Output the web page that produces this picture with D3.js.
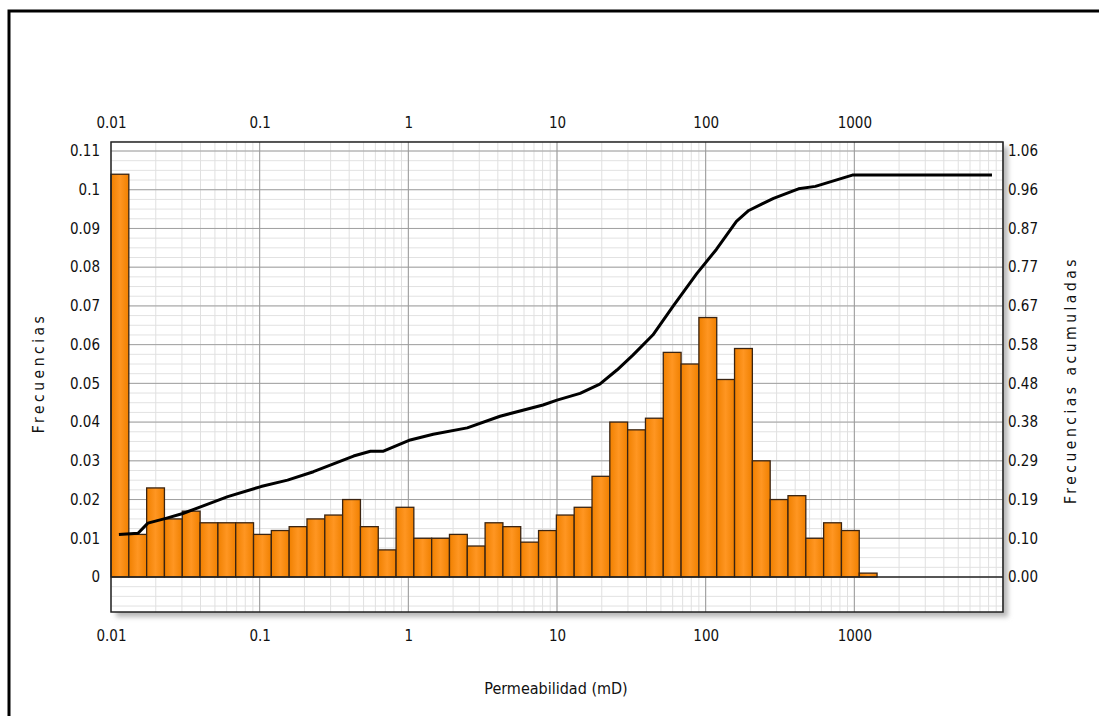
<!DOCTYPE html>
<html>
<head>
<meta charset="utf-8">
<script src="https://cdn.jsdelivr.net/npm/d3@7"></script>
<style>
  body { margin: 0; background: #fff; }
  text { font-family: "DejaVu Sans Condensed", "DejaVu Sans", sans-serif; fill: #111; }
</style>
</head>
<body>
<div id="chart"></div>
<script>
// histogram bins (permeabilidad, mD) - lower/upper edges
const binEdges = [0.01, 0.01318, 0.01737, 0.02288, 0.03016, 0.03974, 0.05237, 0.06901, 0.09094,
  0.1198, 0.1579, 0.2081, 0.2742, 0.3614, 0.4763, 0.6276, 0.8271, 1.089, 1.435, 1.891,
  2.492, 3.284, 4.327, 5.702, 7.515, 9.903, 13.05, 17.20, 22.66, 29.86, 39.36, 51.86,
  68.34, 90.06, 118.7, 156.4, 206.1, 271.6, 357.9, 471.7, 621.5, 819.1, 1079, 1422];

const frecuencias = [0.104, 0.011, 0.023, 0.015, 0.017, 0.014, 0.014, 0.014, 0.011, 0.012,
  0.013, 0.015, 0.016, 0.020, 0.013, 0.007, 0.018, 0.010, 0.010, 0.011,
  0.008, 0.014, 0.013, 0.009, 0.012, 0.016, 0.018, 0.026, 0.040, 0.038,
  0.041, 0.058, 0.055, 0.067, 0.051, 0.059, 0.030, 0.020, 0.021, 0.010,
  0.014, 0.012, 0.001];

// cumulative curve
const acumPerm = [0.0113, 0.0152, 0.0177, 0.0234, 0.0304, 0.0384, 0.061, 0.102, 0.154, 0.230,
  0.428, 0.556, 0.680, 1.03, 1.47, 2.49, 4.14, 8.05, 10, 14.3, 19.4, 25.3, 32.4, 44.1,
  60.1, 87.1, 118, 161, 195, 238, 286, 421, 547, 970, 8430];
const acumFrec = [0.106, 0.109, 0.134, 0.146, 0.158, 0.172, 0.200, 0.225, 0.241, 0.262,
  0.301, 0.313, 0.313, 0.341, 0.355, 0.371, 0.400, 0.428, 0.440, 0.457, 0.480, 0.515, 0.552, 0.602,
  0.673, 0.755, 0.815, 0.885, 0.912, 0.928, 0.942, 0.966, 0.972, 1.0, 1.0];

const xTicks = [0.01, 0.1, 1, 10, 100, 1000];
const xLabels = ["0.01", "0.1", "1", "10", "100", "1000"];
const leftTicks = [0, 0.01, 0.02, 0.03, 0.04, 0.05, 0.06, 0.07, 0.08, 0.09, 0.1, 0.11];
const rightTicks = [0, 0.0964, 0.1927, 0.2891, 0.3855, 0.4818, 0.5782, 0.6745, 0.7709, 0.8673, 0.9636, 1.06];
const rightLabels = ["0.00", "0.10", "0.19", "0.29", "0.38", "0.48", "0.58", "0.67", "0.77", "0.87", "0.96", "1.06"];

const W = 1099, H = 716;
const box = { left: 111, right: 1003, top: 142, bottom: 612 };

const svg = d3.select('#chart').append('svg')
  .attr('width', W)
  .attr('height', H);

const defs = svg.append('defs');
const grad = defs.append('linearGradient').attr('id', 'barGrad')
  .attr('x1', '0%').attr('x2', '100%').attr('y1', '0%').attr('y2', '0%');
grad.append('stop').attr('offset', '0%').attr('stop-color', '#f08000');
grad.append('stop').attr('offset', '50%').attr('stop-color', '#ff9622');
grad.append('stop').attr('offset', '100%').attr('stop-color', '#f08000');
defs.append('filter').attr('id', 'blur')
  .append('feGaussianBlur').attr('stdDeviation', 2.5);

const x = d3.scaleLog().domain([0.01, 10000]).range([box.left, box.right]);
const yL = d3.scaleLinear().domain([0, 0.11]).range([577, 151]);
const yR = d3.scaleLinear().domain([0, 1.06]).range([577, 151]);

// outer frame
svg.append('rect')
  .attr('x', 9).attr('y', 11)
  .attr('width', 1200).attr('height', 800)
  .attr('fill', 'none').attr('stroke', '#000').attr('stroke-width', 3);

// plot shadow + background
svg.append('rect')
  .attr('x', box.left + 5).attr('y', box.top + 5)
  .attr('width', box.right - box.left).attr('height', box.bottom - box.top)
  .attr('fill', '#b8b8b8').attr('filter', 'url(#blur)');
svg.append('rect')
  .attr('x', box.left).attr('y', box.top)
  .attr('width', box.right - box.left).attr('height', box.bottom - box.top)
  .attr('fill', '#fff');

// grid
const grid = svg.append('g');
const minorY = d3.range(-0.0075, 0.1126, 0.0025);
grid.selectAll('line.hmin').data(minorY).enter().append('line')
  .attr('x1', box.left).attr('x2', box.right)
  .attr('y1', d => yL(d)).attr('y2', d => yL(d))
  .attr('stroke', '#e2e2e2').attr('stroke-width', 1);
grid.selectAll('line.vmin').data(x.ticks()).enter().append('line')
  .attr('x1', d => x(d)).attr('x2', d => x(d))
  .attr('y1', box.top).attr('y2', box.bottom)
  .attr('stroke', '#e0e0e0').attr('stroke-width', 1);
grid.selectAll('line.hmaj').data(leftTicks.slice(1)).enter().append('line')
  .attr('x1', box.left).attr('x2', box.right)
  .attr('y1', d => yL(d)).attr('y2', d => yL(d))
  .attr('stroke', '#a0a0a0').attr('stroke-width', 1);
grid.selectAll('line.vmaj').data(xTicks.slice(1).concat([10000])).enter().append('line')
  .attr('x1', d => x(d)).attr('x2', d => x(d))
  .attr('y1', box.top).attr('y2', box.bottom)
  .attr('stroke', '#999').attr('stroke-width', 1);

// bars
svg.selectAll('rect.bar')
  .data(frecuencias)
  .enter()
  .append('rect')
  .attr('class', 'bar')
  .attr('x', (d, i) => x(binEdges[i]))
  .attr('width', (d, i) => x(binEdges[i + 1]) - x(binEdges[i]))
  .attr('y', d => yL(d))
  .attr('height', d => yL(0) - yL(d))
  .attr('fill', 'url(#barGrad)')
  .attr('stroke', '#3a2412')
  .attr('stroke-width', 1.3);

// zero line
svg.append('line')
  .attr('x1', box.left).attr('x2', box.right)
  .attr('y1', yL(0)).attr('y2', yL(0))
  .attr('stroke', '#222').attr('stroke-width', 1.5);

// cumulative line
const acum = acumPerm.map((p, i) => ({ p: p, c: acumFrec[i] }));
svg.append('path')
  .datum(acum)
  .attr('fill', 'none')
  .attr('stroke', '#000')
  .attr('stroke-width', 3)
  .attr('stroke-linejoin', 'round')
  .attr('d', d3.line().x(d => x(d.p)).y(d => yR(d.c)));

// plot border
svg.append('rect')
  .attr('x', box.left).attr('y', box.top)
  .attr('width', box.right - box.left).attr('height', box.bottom - box.top)
  .attr('fill', 'none').attr('stroke', '#222').attr('stroke-width', 1.5);

// axes
function style(g) {
  g.select('.domain').remove();
  g.selectAll('text').attr('font-size', 15).attr('fill', '#000')
    .attr('font-family', '"DejaVu Sans Condensed", "DejaVu Sans", sans-serif');
}
svg.append('g')
  .attr('transform', 'translate(0,130)')
  .call(d3.axisTop(x).tickValues(xTicks).tickFormat((d, i) => xLabels[i]).tickSize(0).tickPadding(2))
  .call(style);
svg.append('g')
  .attr('transform', 'translate(0,' + box.bottom + ')')
  .call(d3.axisBottom(x).tickValues(xTicks).tickFormat((d, i) => xLabels[i]).tickSize(0).tickPadding(18))
  .call(style);
svg.append('g')
  .attr('transform', 'translate(' + box.left + ',0)')
  .call(d3.axisLeft(yL).tickValues(leftTicks).tickFormat(d3.format('~g')).tickSize(0).tickPadding(11))
  .call(style);
svg.append('g')
  .attr('transform', 'translate(' + box.right + ',0)')
  .call(d3.axisRight(yR).tickValues(rightTicks).tickFormat((d, i) => rightLabels[i]).tickSize(0).tickPadding(5))
  .call(style);

// axis titles
svg.append('text')
  .attr('x', 556).attr('y', 694)
  .attr('text-anchor', 'middle')
  .attr('font-size', 16)
  .text('Permeabilidad (mD)');
svg.append('text')
  .attr('transform', 'translate(44,373) rotate(-90)')
  .attr('text-anchor', 'middle')
  .attr('font-family', '"DejaVu Sans", sans-serif')
  .attr('font-size', 15.5)
  .attr('letter-spacing', 3.5)
  .attr('fill', '#333')
  .text('Frecuencias');
svg.append('text')
  .attr('transform', 'translate(1076,380) rotate(-90)')
  .attr('text-anchor', 'middle')
  .attr('font-family', '"DejaVu Sans", sans-serif')
  .attr('font-size', 15.5)
  .attr('letter-spacing', 3.5)
  .attr('fill', '#333')
  .text('Frecuencias acumuladas');
</script>
</body>
</html>
